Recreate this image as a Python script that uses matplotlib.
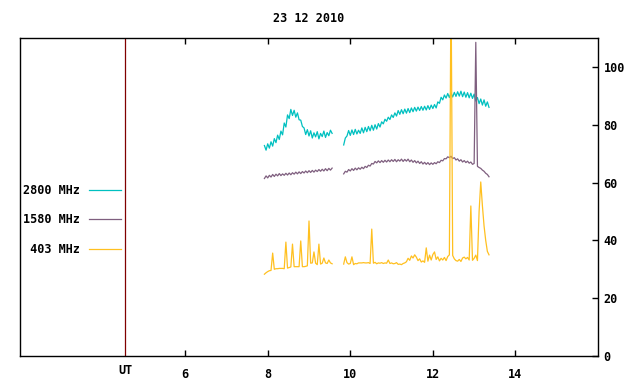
import numpy as np
import matplotlib
matplotlib.use('Agg')
import matplotlib.pyplot as plt
import matplotlib.transforms as mtransforms

# solar radio flux, 23 12 2010
title = '23 12 2010'
ut_mark = 4.55

# sample times (hours UT), one every 0.04 h from 7.92 to 13.36
t = np.linspace(7.92, 13.36, 137)

gap = [np.nan] * 6

f2800 = [72.8, 71.2, 73.4, 71.9, 74.1, 72.6, 75.2, 73.8, 76.4, 74.9, 77.8, 76.5, 80.6, 79.2,
         83.4, 82.1, 85.3, 83.2, 85.0, 82.6, 84.1, 81.7, 81.6, 79.4, 78.9, 76.6, 78.3, 76.1,
         77.9, 75.4, 77.2, 75.8, 77.6, 75.1, 77.0, 75.9, 77.8, 75.6, 77.3, 76.2, 78.1, 77.0] + gap + \
        [73.0, 75.4, 76.1, 78.0, 76.3, 78.2, 76.6, 78.4, 76.8, 78.1, 77.0, 78.9, 77.2, 79.1,
         77.6, 79.4, 77.9, 79.8, 78.1, 80.0, 78.5, 80.4, 79.2, 81.0, 80.3, 81.9, 81.2, 82.6,
         81.8, 83.4, 82.5, 84.1, 83.0, 84.9, 83.6, 85.2, 83.8, 85.4, 84.0, 85.6, 84.2, 85.8,
         84.5, 86.0, 84.7, 86.1, 84.9, 86.3, 85.0, 86.4, 85.1, 86.6, 85.3, 86.8, 85.6, 87.0,
         85.8, 87.9, 87.4, 89.5, 88.6, 90.3, 89.2, 90.8, 89.4, 91.0, 89.6, 91.2, 89.8, 91.4,
         89.9, 91.6, 89.7, 91.3, 89.5, 91.1, 89.3, 90.9, 89.1, 90.6, 88.2, 89.4, 87.3, 88.9,
         86.8, 88.6, 86.4, 87.9, 86.0]

f1580 = [61.4, 62.3, 61.6, 62.5, 61.9, 62.8, 62.1, 62.9, 62.3, 63.1, 62.4, 63.0, 62.5, 63.2,
         62.6, 63.3, 62.7, 63.4, 62.9, 63.6, 63.0, 63.7, 63.1, 63.8, 63.3, 64.0, 63.4, 64.1,
         63.5, 64.2, 63.6, 64.3, 63.8, 64.5, 63.9, 64.6, 64.0, 64.8, 64.1, 64.9, 64.3, 65.0] + gap + \
        [63.0, 63.9, 63.6, 64.5, 64.0, 64.8, 64.2, 65.0, 64.4, 65.1, 64.6, 65.3, 64.8, 65.6,
         65.2, 66.0, 65.7, 66.6, 66.4, 67.3, 66.8, 67.5, 66.9, 67.6, 67.0, 67.7, 67.1, 67.8,
         67.2, 67.9, 67.3, 68.0, 67.2, 67.9, 67.4, 68.1, 67.3, 68.0, 67.4, 68.1, 67.2, 67.8,
         67.0, 67.6, 66.8, 67.4, 66.6, 67.2, 66.4, 67.0, 66.3, 66.9, 66.2, 66.8, 66.3, 66.9,
         66.5, 67.2, 66.9, 67.7, 67.5, 68.3, 68.2, 68.9, 68.6, 69.1, 68.3, 68.6, 67.8, 68.2,
         67.4, 67.9, 67.1, 67.6, 66.9, 67.4, 66.7, 67.1, 66.3, 66.6, 108.5, 65.6, 65.2, 64.9,
         64.3, 63.9, 63.2, 62.8, 62.0]

f403 = [28.3, 28.8, 29.2, 29.5, 29.6, 35.6, 30.0, 30.2, 30.2, 30.3, 30.3, 30.3, 30.2, 39.4,
        30.4, 30.6, 30.8, 38.7, 30.9, 30.9, 30.9, 30.9, 39.8, 30.9, 30.9, 31.0, 31.2, 46.7,
        32.1, 32.2, 36.0, 32.1, 31.6, 38.7, 31.8, 32.1, 33.9, 32.2, 32.0, 33.2, 32.2, 31.9] + gap + \
       [31.8, 34.3, 32.3, 31.8, 32.0, 34.3, 31.6, 32.0, 31.9, 32.2, 32.2, 32.2, 32.3, 32.2,
        32.2, 32.3, 32.0, 43.9, 32.1, 32.4, 31.9, 32.2, 32.1, 32.3, 32.0, 32.2, 32.1, 33.2,
        32.0, 32.2, 31.9, 32.0, 32.3, 31.7, 31.8, 31.6, 32.0, 32.2, 32.6, 33.8, 33.1, 34.6,
        33.9, 35.0, 34.2, 33.0, 33.6, 32.5, 32.9, 32.4, 37.4, 32.8, 34.9, 33.2, 35.1, 36.0,
        33.4, 34.3, 32.9, 33.8, 33.2, 34.1, 33.0, 34.4, 35.0, 130.0, 34.8, 33.6, 33.0, 32.8,
        33.4, 32.7, 33.9, 34.2, 33.6, 34.1, 33.2, 51.9, 33.1, 33.8, 34.9, 33.0, 50.0, 60.2,
        52.0, 45.0, 40.0, 36.2, 35.0]

series = [('2800 MHz', f2800, '#00c0c0'),
          ('1580 MHz', f1580, '#7f5f7f'),
          (' 403 MHz', f403, '#ffc020')]

xticks = [ut_mark, 6, 8, 10, 12, 14]
xlabels = ['UT', '6', '8', '10', '12', '14']
yticks = [0, 20, 40, 60, 80, 100]

font = {'family': 'DejaVu Sans Mono', 'weight': 'bold', 'size': 8.5}

fig = plt.figure(figsize=(6.4, 3.84), dpi=100)
ax = fig.add_axes([20 / 640, 1 - 356 / 384, 578 / 640, 318 / 384])

ax.axvline(ut_mark, color='#800000', lw=0.9)
for name, vals, col in series:
    ax.plot(t, vals, color=col, lw=0.9, label=name)

ax.set_xlim(2, 16)
ax.set_ylim(0, 110)

ax.set_xticks(xticks)
ax.set_xticklabels(xlabels, fontdict=font)
ax.tick_params(axis='x', direction='in', top=True, length=4, width=1, pad=9)
ut_tick = ax.xaxis.get_major_ticks()[0]
ut_tick.tick1line.set_visible(False)
ut_tick.tick2line.set_visible(False)
# UT label sits a little higher than the hour numbers
lab = ax.get_xticklabels()[0]
lab.set_transform(lab.get_transform() + mtransforms.ScaledTranslation(0, 4 / 100, fig.dpi_scale_trans))

ax.yaxis.tick_right()
ax.set_yticks(yticks)
ax.set_yticklabels([str(v) for v in yticks], fontdict=font)
ax.tick_params(axis='y', direction='in', left=False, right=True, length=4, width=1, pad=4)

for s in ax.spines.values():
    s.set_linewidth(1)

leg = ax.legend(loc='upper left', bbox_to_anchor=(0.006, 0.542), frameon=False,
                markerfirst=False, prop=font, handlelength=2.7, handletextpad=0.7,
                labelspacing=1.42, borderpad=0, borderaxespad=0)

fig.text(309 / 640, 1 - 18 / 384, title, ha='center', va='center', fontdict=font)

fig.savefig('out.png', dpi=100)
